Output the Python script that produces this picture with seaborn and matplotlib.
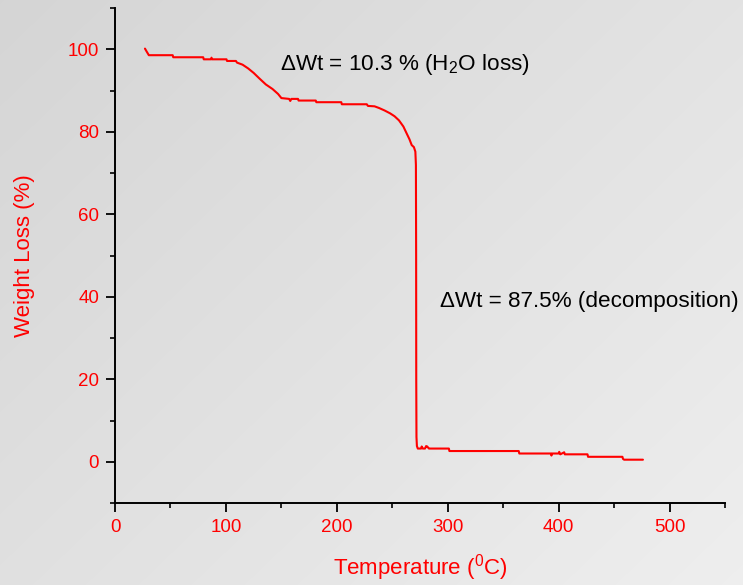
import numpy as np
import pandas as pd
import matplotlib
matplotlib.use("Agg")
import matplotlib.pyplot as plt
from matplotlib.ticker import MultipleLocator
import seaborn as sns

# TGA trace: temperature (°C) and residual weight (%)
temperature = [27.0, 28.5, 30.5, 52.0, 52.5, 79.5, 80.0, 86.5, 87.0, 87.5,
               100.5, 101.0, 109.0, 110.0, 115.0, 120.0, 125.0, 130.0, 136.0,
               142.0, 147.0, 150.0, 157.0, 158.0, 159.0, 165.0, 165.5, 181.0,
               181.5, 204.0, 204.5, 227.0, 228.0, 234.0, 238.0, 243.0, 248.0,
               252.0, 256.0, 260.0, 263.0, 265.5, 267.5, 269.5, 270.8, 271.3,
               271.5, 271.6, 271.8, 272.2, 273.0, 276.0, 276.5, 277.5, 279.5,
               280.5, 281.5, 283.0, 284.0, 301.0, 301.5, 364.0, 364.5, 393.0,
               393.5, 394.0, 400.0, 400.5, 401.5, 405.0, 405.5, 426.0, 426.5,
               457.5, 458.0, 459.0, 476.0]
weight = [100.2, 99.5, 98.6, 98.6, 98.1, 98.1, 97.6, 97.6, 98.0, 97.6,
          97.6, 97.2, 97.2, 96.8, 96.3, 95.4, 94.3, 93.0, 91.5,
          90.4, 89.2, 88.2, 88.0, 87.5, 88.0, 88.0, 87.6, 87.6,
          87.2, 87.2, 86.7, 86.7, 86.3, 86.2, 85.8, 85.2, 84.5,
          83.8, 82.8, 81.3, 79.6, 78.2, 76.8, 76.3, 75.2, 72.0,
          50.0, 20.0, 6.0, 3.8, 3.2, 3.2, 3.7, 3.2, 3.2,
          3.8, 3.7, 3.2, 3.2, 3.2, 2.6, 2.6, 2.0, 2.0,
          1.5, 2.0, 2.0, 2.4, 1.8, 2.3, 1.8, 1.8, 1.2,
          1.2, 0.7, 0.5, 0.5]

x_ticks = [0, 100, 200, 300, 400, 500]
y_ticks = [0, 20, 40, 60, 80, 100]

notes = ["\u0394Wt = 10.3 % (H$_2$O loss)", "\u0394Wt = 87.5% (decomposition)"]

df = pd.DataFrame({"Temperature": temperature, "Weight": weight})

sns.set_style("ticks")
plt.rcParams["font.family"] = ["Liberation Sans", "DejaVu Sans"]
plt.rcParams["mathtext.fontset"] = "custom"
plt.rcParams["mathtext.rm"] = "Liberation Sans"
plt.rcParams["mathtext.default"] = "regular"

fig = plt.figure(figsize=(7.43, 5.85), dpi=100)

# soft grey backdrop, lighter toward the lower right
h, w = 585, 743
yy, xx = np.mgrid[0:h, 0:w]
shade = 0.835 + 0.10 * (0.55 * xx / w + 0.45 * yy / h)
bg = np.dstack([shade, shade, shade])
bg_ax = fig.add_axes([0, 0, 1, 1], zorder=-1)
bg_ax.imshow(bg, aspect="auto", extent=[0, 1, 0, 1], vmin=0, vmax=1)
bg_ax.axis("off")

ax = fig.add_axes([0.1548, 0.1402, 0.8210, 0.8458])
ax.set_facecolor("none")

sns.lineplot(data=df, x="Temperature", y="Weight", sort=False, estimator=None,
             color="#ff0000", linewidth=1.5, ax=ax)

ax.set_xlim(0, 550)
ax.set_ylim(-10, 110)
ax.set_xticks(x_ticks)
ax.set_yticks(y_ticks)
ax.xaxis.set_minor_locator(MultipleLocator(50))
ax.yaxis.set_minor_locator(MultipleLocator(10))

for side in ["top", "right"]:
    ax.spines[side].set_visible(False)
for side in ["left", "bottom"]:
    ax.spines[side].set_linewidth(1.4)
    ax.spines[side].set_color("black")

ax.tick_params(which="major", direction="out", length=6.5, width=1.3,
               color="black", labelcolor="#ff0000", labelsize=13.5, pad=5)
ax.tick_params(which="minor", direction="out", length=3.5, width=1.2,
               color="black")

ax.set_xlabel("Temperature ($^0$C)", color="#ff0000", fontsize=16, labelpad=11.5)
ax.set_ylabel("Weight Loss (%)", color="#ff0000", fontsize=16, labelpad=23.5)

ax.text(149, 96.4, notes[0], fontsize=16.2, color="black", va="center", ha="left")
ax.text(293, 38.9, notes[1], fontsize=16.2, color="black", va="center", ha="left")

fig.savefig("out.png", dpi=100)
